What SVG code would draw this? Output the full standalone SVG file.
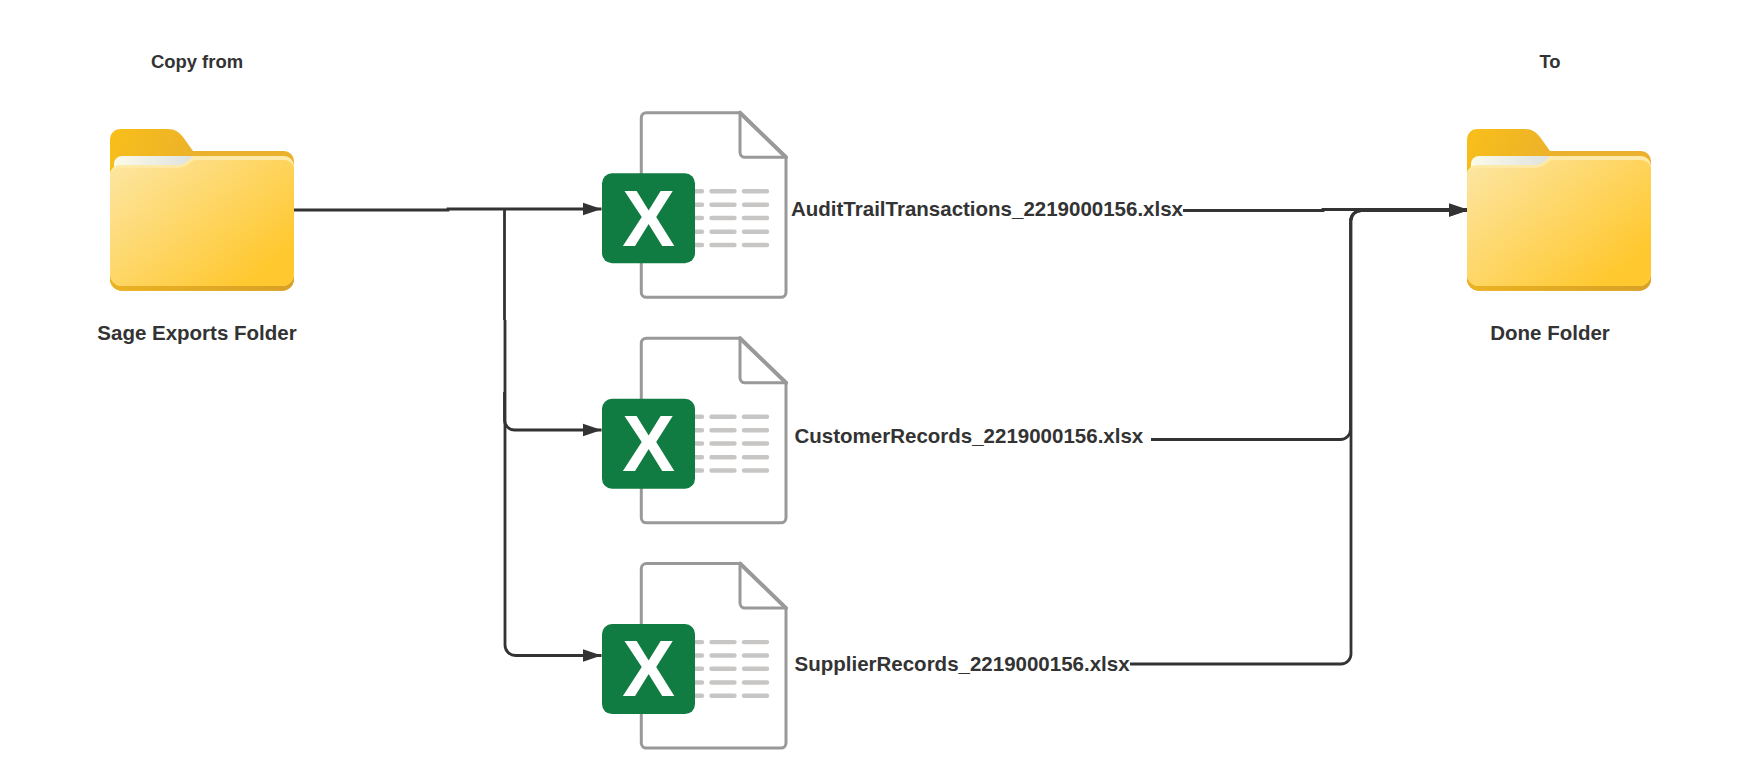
<svg xmlns="http://www.w3.org/2000/svg" xmlns:xlink="http://www.w3.org/1999/xlink" width="1747" height="784" viewBox="0 0 1747 784">
<style>
.lbl{font-family:"Liberation Sans",Arial,sans-serif;font-weight:700;font-size:20.500px;fill:#333}
.mid{text-anchor:middle}
.sm{font-size:18.450px}
.conn{fill:none;stroke:#333;stroke-width:2.800}
.doc{fill:#fff;stroke:#999;stroke-width:3;stroke-linejoin:round}
.fold{fill:none;stroke:#999;stroke-width:4;stroke-linecap:round}
.row{stroke:#c8c6c4;stroke-width:4.400;stroke-linecap:round;fill:none}
.xl{font-family:"Liberation Sans",Arial,sans-serif;font-weight:700;font-size:79px;fill:#fff;text-anchor:middle}
</style>
<defs>
<linearGradient id="gTab" gradientUnits="userSpaceOnUse" x1="0" y1="0" x2="90" y2="40"><stop offset="0" stop-color="#f8bf1a"/><stop offset="1" stop-color="#ebb02c"/></linearGradient>
<linearGradient id="gPaper" gradientUnits="userSpaceOnUse" x1="4" y1="27" x2="82" y2="39"><stop offset="0" stop-color="#fbfbe8"/><stop offset="1" stop-color="#dfe2e0"/></linearGradient>
<linearGradient id="gFront" gradientUnits="userSpaceOnUse" x1="25" y1="30" x2="130" y2="160"><stop offset="0" stop-color="#fde49b"/><stop offset="1" stop-color="#ffc82f"/></linearGradient>
<linearGradient id="gBand" gradientUnits="userSpaceOnUse" x1="0" y1="0" x2="184" y2="0"><stop offset="0" stop-color="#ebb222"/><stop offset="1" stop-color="#d8a026"/></linearGradient>
<g id="folder">
<path d="M0 10a10 10 0 0 1 10-10H58c7 0 11 3 15 8L83 22H174a10 10 0 0 1 10 10V150a11.700 11.700 0 0 1-11.700 11.700H11.700A11.700 11.700 0 0 1 0 150Z" fill="url(#gTab)"/>
<path d="M0 130H184V150a11.700 11.700 0 0 1-11.700 11.700H11.700A11.700 11.700 0 0 1 0 150Z" fill="url(#gBand)"/>
<path d="M4 35a8 8 0 0 1 8-8H84V40H4Z" fill="url(#gPaper)"/>
<path d="M0 44a10 10 0 0 1 10-8H66c6 0 10-2 14-6L83 27H174a10 10 0 0 1 10 10V145a12 12 0 0 1-12 12H12A12 12 0 0 1 0 145Z" fill="#feeaa6"/>
<path d="M0 47a10 10 0 0 1 10-8H66c7 0 11-2 16-7L85 31H174a10 10 0 0 1 10 8V145a12 12 0 0 1-12 12H12A12 12 0 0 1 0 145Z" fill="url(#gFront)"/>
</g>
<g id="sheet">
<path class="doc" d="M646.300 112.700H740L786 157.300V292.300a5 5 0 0 1-5 5H646.300a5 5 0 0 1-5-5V117.700a5 5 0 0 1 5-5Z"/>
<path class="doc" d="M740 112.700V152.300a5 5 0 0 0 5 5H786" fill="none"/>
<path class="fold" d="M740 112.700L786 157.300"/>
<path class="row" d="M690 191.300H702M711.500 191.300H734.500M744 191.300H767M690 204.700H702M711.500 204.700H734.500M744 204.700H767M690 218H702M711.500 218H734.500M744 218H767M690 231.700H702M711.500 231.700H734.500M744 231.700H767M690 245H702M711.500 245H734.500M744 245H767"/>
<rect x="602" y="173.300" width="93" height="90" rx="10" fill="#107c41"/>
<text class="xl" x="648.500" y="245.700">X</text>
</g>
<marker id="arrow" markerUnits="userSpaceOnUse" markerWidth="20" markerHeight="15" refX="19" refY="7.500" orient="auto"><path d="M0 1L19 7.500L0 14Z" fill="#333"/></marker>
</defs>
<rect width="1747" height="784" fill="#fff"/>
<g id="connectors">
<path class="conn" d="M294 210H448V209H601.500" marker-end="url(#arrow)"/>
<path class="conn" d="M504.500 209V320"/>
<path class="conn" d="M504.500 392V420a10 10 0 0 0 10 10H601.500" marker-end="url(#arrow)"/>
<path class="conn" d="M505 320V645a10.500 10.500 0 0 0 10.500 10.500H601.500" marker-end="url(#arrow)"/>
<path class="conn" d="M1183 210.500H1323V209.500H1467.500" marker-end="url(#arrow)"/>
<path class="conn" d="M1151 439.500H1340a10 10 0 0 0 10.500-10.500V221a10.500 10.500 0 0 1 10.500-10.500H1467.500" marker-end="url(#arrow)"/>
<path class="conn" d="M1130 664H1341a10 10 0 0 0 10-10V221a10.500 10.500 0 0 1 10.500-10.500H1467.500" marker-end="url(#arrow)"/>
</g>
<g id="node-source"><use xlink:href="#folder" href="#folder" x="110" y="129"/></g>
<g id="node-done"><use xlink:href="#folder" href="#folder" x="1467" y="129"/></g>
<g id="node-audit"><use xlink:href="#sheet" href="#sheet"/></g>
<g id="node-customer"><use xlink:href="#sheet" href="#sheet" y="225.500"/></g>
<g id="node-supplier"><use xlink:href="#sheet" href="#sheet" y="450.800"/></g>
<g id="labels">
<text class="lbl sm mid" x="197" y="68">Copy from</text>
<text class="lbl sm mid" x="1550" y="68">To</text>
<text class="lbl mid" x="197" y="340">Sage Exports Folder</text>
<text class="lbl mid" x="1550" y="340">Done Folder</text>
<text class="lbl" x="791" y="216">AuditTrailTransactions_2219000156.xlsx</text>
<text class="lbl" x="794.500" y="443">CustomerRecords_2219000156.xlsx</text>
<text class="lbl" x="794.500" y="671">SupplierRecords_2219000156.xlsx</text>
</g>
</svg>
